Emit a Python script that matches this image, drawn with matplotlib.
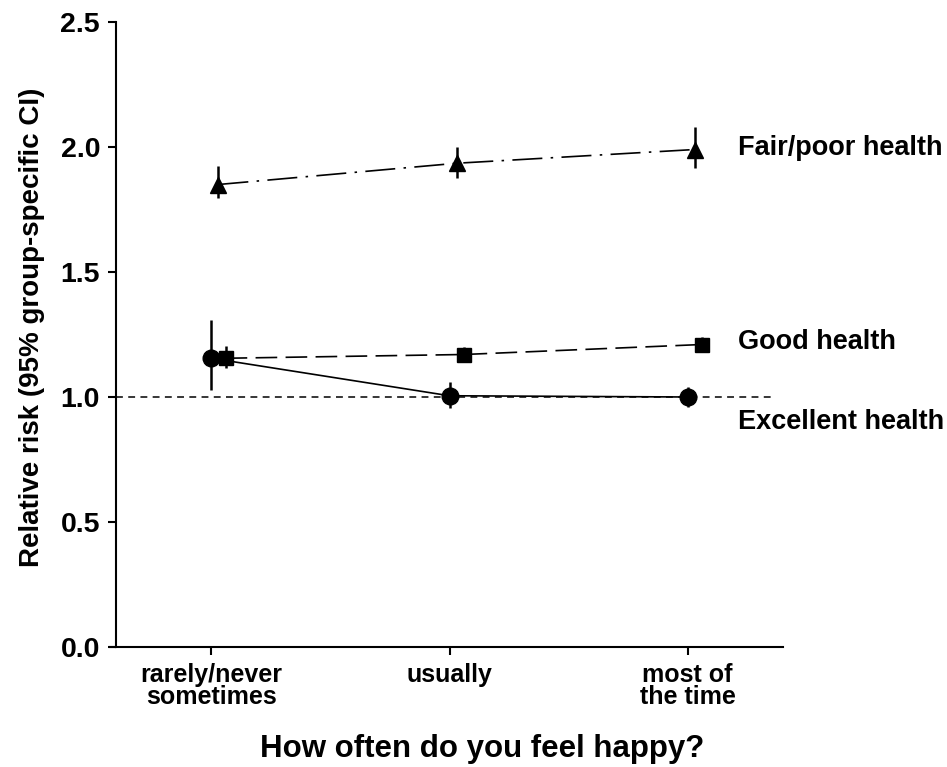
import matplotlib
matplotlib.use("Agg")
import matplotlib.pyplot as plt
from matplotlib.lines import Line2D
from matplotlib import font_manager
import numpy as np

# Happiness categories on the x axis
categories = ["rarely/never\nsometimes", "usually", "most of\nthe time"]

# Relative risk and 95% group-specific CI for each self-rated health group
excellent_rr = [1.155, 1.005, 1.00]
excellent_lo = [1.03, 0.955, 0.96]
excellent_hi = [1.31, 1.06, 1.04]

good_rr = [1.155, 1.17, 1.21]
good_lo = [1.115, 1.14, 1.18]
good_hi = [1.205, 1.20, 1.24]

fair_rr = [1.85, 1.935, 1.99]
fair_lo = [1.795, 1.875, 1.915]
fair_hi = [1.925, 2.00, 2.08]

group_labels = ["Excellent health", "Good health", "Fair/poor health"]
label_y = [0.90, 1.22, 1.995]

yticks = [0.0, 0.5, 1.0, 1.5, 2.0, 2.5]

available = {f.name for f in font_manager.fontManager.ttflist}
main_font = "Liberation Sans" if "Liberation Sans" in available else "DejaVu Sans"

plt.rcParams["font.family"] = [main_font, "DejaVu Sans"]
plt.rcParams["font.weight"] = "bold"

fig = plt.figure(figsize=(9.47, 7.67), dpi=100)
ax = fig.add_axes([116 / 947, 120 / 767, 667 / 947, 625 / 767])

x = np.arange(len(categories))

# reference line at RR = 1
ax.plot([-0.4, 2.35], [1.0, 1.0], color="black", lw=1.1,
        linestyle=(0, (4.5, 3.5)), zorder=1)

def series(xpos, rr, lo, hi, marker, ms, ls):
    rr = np.asarray(rr); lo = np.asarray(lo); hi = np.asarray(hi)
    ax.errorbar(xpos, rr, yerr=[rr - lo, hi - rr], fmt="none",
                ecolor="black", elinewidth=1.8, capsize=0, zorder=2)
    ax.plot(xpos, rr, color="black", lw=1.2, linestyle=ls,
            marker=marker, markersize=ms, markerfacecolor="black",
            markeredgecolor="black", zorder=3)

series(x + 0.0, excellent_rr, excellent_lo, excellent_hi, "o", 12, "-")
series(x + 0.03, fair_rr, fair_lo, fair_hi, "^", 12, (0, (18, 5, 1.5, 5)))
series(x + 0.06, good_rr, good_lo, good_hi, "s", 10.5, (0, (13, 5)))

ax.set_xlim(-0.4, 2.4)
ax.set_ylim(0, 2.5)
ax.set_yticks(yticks)
ax.set_yticklabels([f"{v:.1f}" for v in yticks], fontsize=20.5, fontweight="bold")
ax.set_xticks(x)
ax.set_xticklabels(categories, fontsize=18, fontweight="bold", linespacing=0.9)

for s in ["top", "right"]:
    ax.spines[s].set_visible(False)
for s in ["left", "bottom"]:
    ax.spines[s].set_linewidth(1.5)
ax.tick_params(axis="both", direction="out", length=5.5, width=1.5, pad=6)

# bottom axis line continues a little left of the y axis
ax.add_line(Line2D([-0.43, -0.4], [0, 0], color="black", lw=1.5,
                   clip_on=False, solid_capstyle="butt"))

ax.set_ylabel("Relative risk (95% group-specific CI)", fontsize=20,
              fontweight="bold")
ax.yaxis.set_label_coords(-0.106, 0.512)
ax.set_xlabel("How often do you feel happy?", fontsize=22.5,
              fontweight="bold")
ax.xaxis.set_label_coords(0.549, -0.139)

for lab, yy in zip(group_labels, label_y):
    ax.text(2.21, yy, lab, fontsize=19.5, fontweight="bold",
            ha="left", va="center", clip_on=False)

fig.savefig("out.png", dpi=100)
